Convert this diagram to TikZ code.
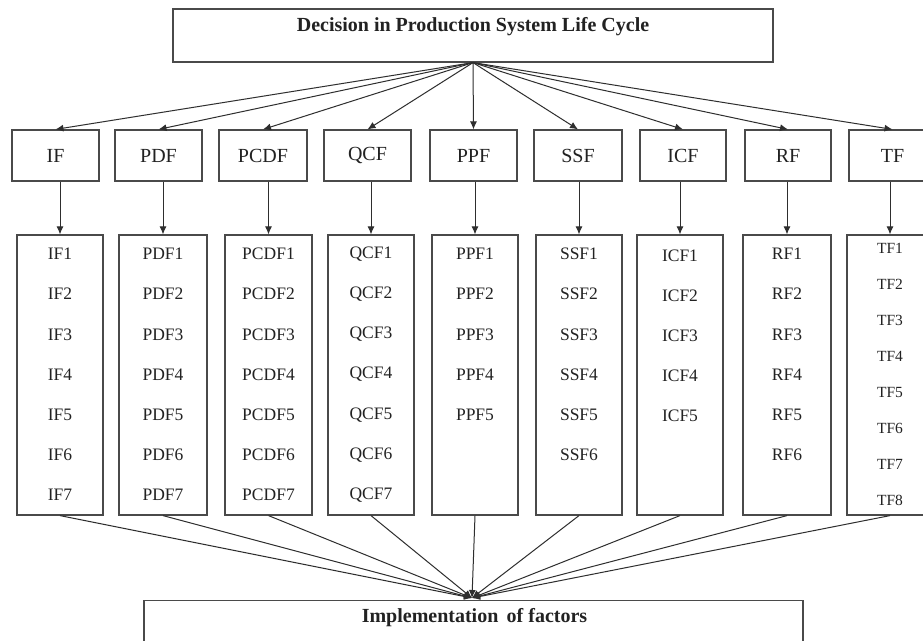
\documentclass[tikz,border=0pt]{standalone}
\usepackage{fontspec}
\setmainfont{Liberation Serif}
\usetikzlibrary{arrows.meta}
\definecolor{edge}{HTML}{4A4A4A}
\definecolor{wire}{HTML}{2E2E2E}
\definecolor{ink}{HTML}{222222}
\begin{document}
\begin{tikzpicture}[x=1pt,y=-1pt,
  box/.style={draw=edge,line width=1.2pt,rectangle,inner sep=0pt,fill=white},
  l2lab/.style={font=\fontsize{20}{22}\selectfont,text=ink},
  item/.style={text=ink,inner sep=0pt},
  titlelab/.style={font=\fontsize{20}{22}\selectfont\bfseries,text=ink,inner sep=0pt},
  arr/.style={draw=wire,line width=1pt,-{Latex[length=8pt,width=7pt]}}]
\useasboundingbox (0,0) rectangle (923,640);
\clip (0,0) rectangle (923,640);
\fill[white] (0,0) rectangle (923,640);
% top box
\node[box,minimum width=600pt,minimum height=53pt] (top) at (473,35.5) {};
\node[titlelab] (toptext) at (473,27) {Decision in Production System Life Cycle};
% bottom box
\node[box,minimum width=659pt,minimum height=70pt,anchor=north] (bot) at (473.5,600) {};
\node[titlelab] (bottext) at (474.5,618) {Implementation\, of factors};
\coordinate (conv) at (472,598);
% columns
\foreach \n/\a/\b/\c/\d/\k/\s/\t/\f in {
  IF/12/99/17/103/7/254/40.2/17.5,
  PDF/115/202/119/207/7/254/40.2/17.5,
  PCDF/219/307/225/312/7/254/40.2/17.5,
  QCF/324/411/328/414/7/254/40.2/17.5,
  PPF/430/517/432/518/5/254/40.2/17.5,
  SSF/534/622/536/622/6/254/40.2/17.5,
  ICF/640/726/637/723/5/256/40/17.5,
  RF/745/831/743/831/6/254/40.2/17.5,
  TF/849/936/847/933/8/248/36.1/15.5}{
  \node[box,minimum width={(\b-\a)*1pt},minimum height=51pt,l2lab] (\n) at ({(\a+\b)/2},155.5) {\n};
  \node[box,minimum width={(\d-\c)*1pt},minimum height=280pt] (\n L) at ({(\c+\d)/2},375) {};
  \foreach \i in {1,...,\k}{
    \node[item,font=\fontsize{\f}{18}\selectfont] (\n-\i) at ({(\c+\d)/2},{\s+(\i-1)*\t}) {\n\i};
  }
  \draw[arr] (top.south) -- (\n.north);
  \draw[arr] (\n L.north |- \n.south) -- (\n L.north);
  \draw[arr] (\n L.south) -- (conv);
}
\end{tikzpicture}
\end{document}
